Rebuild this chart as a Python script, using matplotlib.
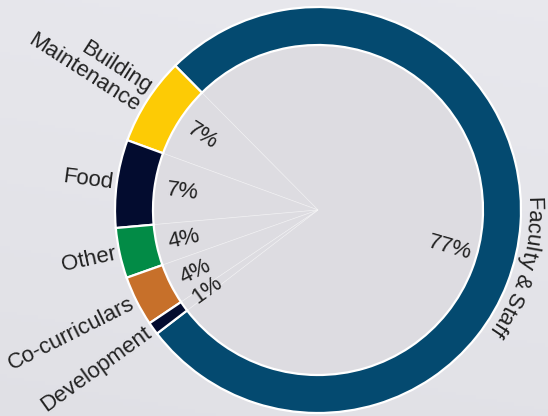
import numpy as np
import matplotlib
matplotlib.use("Agg")
import matplotlib.pyplot as plt
from matplotlib.font_manager import FontProperties

# ---- data ----
categories = ["Faculty & Staff", "Building\nMaintenance", "Food", "Other",
              "Co-curriculars", "Development"]
values = [77, 7, 7, 4, 4, 1]
pct_labels = ["77%", "7%", "7%", "4%", "4%", "1%"]
colors = ["#044a70", "#fdcb05", "#030c2f", "#028b46", "#c7702a", "#030c2f"]

W, H = 548, 416
FONT = "Liberation Sans"
FS = 16
TXT = "#222222"

fig = plt.figure(figsize=(W / 100, H / 100), dpi=100)
ax = fig.add_axes([0, 0, 1, 1])
ax.set_xlim(0, W)
ax.set_ylim(0, H)
ax.set_aspect("equal")
ax.axis("off")

# background gradient
gy, gx = np.mgrid[0:1:120j, 0:1:160j]
shade = 0.905 - 0.025 * gy + 0.006 * gx
bg = np.dstack([shade, shade, shade + 0.02])
bg = np.clip(bg, 0, 1)
ax.imshow(bg, extent=[0, W, 0, H], origin="upper", aspect="auto", zorder=0)

cx, cy = 318, 206
R = 203
ring_w = 38
start = 217.5

# inner faint pie (spokes)
ax.pie(values, radius=R - ring_w, center=(cx, cy), startangle=start,
       counterclock=True, colors=["#dddce1"] * len(values),
       wedgeprops=dict(linewidth=0.5, edgecolor=(1, 1, 1, 0.45)),
       frame=True)
# ring
wedges, _ = ax.pie(values, radius=R, center=(cx, cy), startangle=start,
                   counterclock=True, colors=colors,
                   wedgeprops=dict(width=ring_w, linewidth=1.6, edgecolor="white"),
                   frame=True)
ax.set_xlim(0, W)
ax.set_ylim(0, H)
ax.axis("off")

fp = FontProperties(family=FONT, size=FS)

mids = [(w.theta1 + w.theta2) / 2 for w in wedges]

# percentage labels + outer labels
for i, (cat, pl, m) in enumerate(zip(categories, pct_labels, mids)):
    a = m
    if i == 0:
        a = m - 12
    rad = np.deg2rad(a)
    rp = 137
    x, y = cx + rp * np.cos(rad), cy + rp * np.sin(rad)
    rot = a - 180 if 90 < (a % 360) < 270 else a
    ax.text(x, y, pl, fontproperties=fp, color=TXT, rotation=rot,
            rotation_mode="anchor", ha="center", va="center", zorder=5)
    if i == 0:
        continue
    rad = np.deg2rad(m)
    ro = 207
    x, y = cx + ro * np.cos(rad), cy + ro * np.sin(rad)
    ax.text(x, y, cat, fontproperties=fp, color=TXT, rotation=m - 180,
            rotation_mode="anchor", ha="right", va="center",
            multialignment="right", linespacing=1.1, zorder=5)

# curved label for Faculty & Staff
fig.canvas.draw()
renderer = fig.canvas.get_renderer()


def tw(s):
    w, h, d = renderer.get_text_width_height_descent(s, fp, ismath=False)
    return w


label = categories[0]
ref = tw("x")
starts = [0.0]
for k in range(1, len(label)):
    starts.append(tw(label[:k] + "x") - ref)
starts.append(tw(label))
r_t = 215
theta0 = np.deg2rad(mids[0] + 7.5)
for k, ch in enumerate(label):
    if ch == " ":
        continue
    c = (starts[k] + starts[k + 1]) / 2
    th = theta0 - c / r_t
    x, y = cx + r_t * np.cos(th), cy + r_t * np.sin(th)
    ax.text(x, y, ch, fontproperties=fp, color=TXT,
            rotation=np.rad2deg(th) - 90, rotation_mode="anchor",
            ha="center", va="center", zorder=5)

fig.savefig("out.png", dpi=100)
